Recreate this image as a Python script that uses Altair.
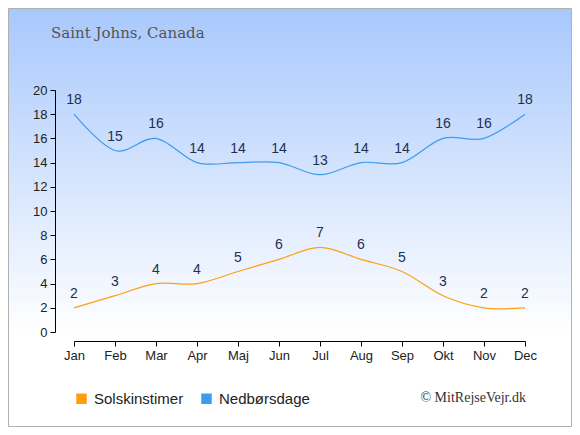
import altair as alt
import pandas as pd

months = ["Jan", "Feb", "Mar", "Apr", "Maj", "Jun", "Jul", "Aug", "Sep", "Okt", "Nov", "Dec"]
sun_hours = [2, 3, 4, 4, 5, 6, 7, 6, 5, 3, 2, 2]
rain_days = [18, 15, 16, 14, 14, 14, 13, 14, 14, 16, 16, 18]
series_names = ["Solskinstimer", "Nedbørsdage"]
series_colors = ["#ff9f10", "#3d9bef"]
title_text = "Saint Johns, Canada"
credit_text = "© MitRejseVejr.dk"

rows = []
for m, s, r in zip(months, sun_hours, rain_days):
    rows.append({"month": m, "value": s, "series": series_names[0]})
    rows.append({"month": m, "value": r, "series": series_names[1]})
df = pd.DataFrame(rows)
legend_df = pd.DataFrame({"name": series_names})

W, H = 451, 242
PL, PT = 66, 82
TOTAL_W, TOTAL_H = 564, 419

x_enc = alt.X("month:N", sort=months,
              scale=alt.Scale(type="point", padding=0),
              axis=alt.Axis(title=None, offset=9, labelAngle=0, domainColor="#000",
                            tickColor="#000", labelColor="#222", labelFont="Liberation Sans",
                            labelFontSize=13, tickSize=5, labelPadding=3, grid=False, zindex=2,
                            labelOverlap=False))
y_enc = alt.Y("value:Q", scale=alt.Scale(domain=[0, 20], nice=False),
              axis=alt.Axis(title=None, offset=19, values=list(range(0, 21, 2)),
                            domainColor="#000", tickColor="#000", labelColor="#222",
                            labelFont="Liberation Sans", labelFontSize=13, tickSize=5,
                            labelPadding=3, grid=False, zindex=2, labelOverlap=False))
color_scale = alt.Scale(domain=series_names, range=series_colors)

bg = alt.Chart(pd.DataFrame({"a": [0]})).mark_rect(
    stroke="#b0b0b0", strokeWidth=1,
    fill=alt.Gradient(gradient="linear", x1=0, y1=0, x2=0, y2=1,
                      stops=[alt.GradientStop(offset=0, color="#a8c8fc"),
                             alt.GradientStop(offset=0.78, color="#ffffff"),
                             alt.GradientStop(offset=1, color="#ffffff")])
).encode(x=alt.value(-PL + 0.5), x2=alt.value(TOTAL_W - PL - 0.5),
         y=alt.value(-PT + 0.5), y2=alt.value(TOTAL_H - PT - 0.5))

base = alt.Chart(df)
lines = base.mark_line(interpolate="cardinal", strokeWidth=1.2).encode(
    x=x_enc, y=y_enc, stroke=alt.Stroke("series:N", scale=color_scale, legend=None))
legend_marks = alt.Chart(legend_df).mark_square(opacity=0, size=10).encode(
    x=alt.value(0), y=alt.value(0),
    fill=alt.Fill("name:N", scale=alt.Scale(domain=series_names, range=series_colors),
                  sort=series_names,
                  legend=alt.Legend(title=None, orient="none", direction="horizontal",
                                    legendX=0, legendY=301, symbolType="square",
                                    symbolSize=110, symbolStrokeWidth=0, symbolOpacity=1,
                                    labelFont="Liberation Sans", labelFontSize=15,
                                    labelColor="#222", columnPadding=15,
                                    labelOffset=5, zindex=2)))
labels = base.mark_text(dy=-14, font="Liberation Sans", fontSize=14, color="#1e3050").encode(
    x=x_enc, y=y_enc, text="value:Q")

title = alt.Chart(pd.DataFrame({"t": [title_text]})).mark_text(
    font="DejaVu Serif", fontSize=15, color="#555555", align="left", baseline="alphabetic"
).encode(x=alt.value(-23), y=alt.value(-52), text="t:N")
credit = alt.Chart(pd.DataFrame({"t": [credit_text]})).mark_text(
    font="Liberation Serif", fontSize=14, color="#333333", align="right", baseline="middle"
).encode(x=alt.value(452), y=alt.value(308), text="t:N")

chart = alt.layer(bg, lines, legend_marks, labels, title, credit).properties(
    width=W, height=H,
    autosize=alt.AutoSizeParams(type="none"),
    padding={"left": PL, "top": PT, "right": TOTAL_W - PL - W, "bottom": TOTAL_H - PT - H},
).resolve_scale(fill="independent", stroke="independent").configure_view(stroke=None).configure(background="#ffffff")

chart.save("out.html", embed_options={"renderer": "svg", "actions": False})
